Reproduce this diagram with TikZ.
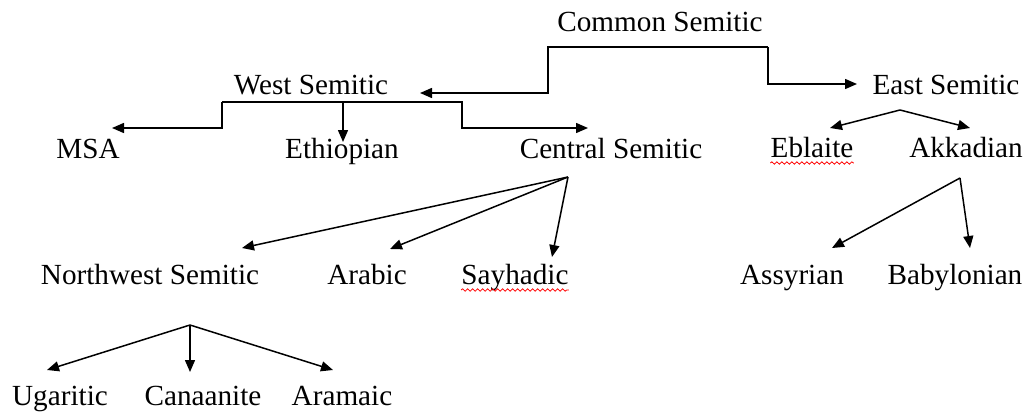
\documentclass[tikz,border=0pt]{standalone}
\usepackage{fontspec}
\setmainfont{Liberation Serif}
\usetikzlibrary{arrows.meta, decorations.pathmorphing}

\tikzset{
  lang/.style={inner sep=0pt, anchor=base, font=\fontsize{14.6}{17}\selectfont},
  branch/.style={line width=0.75pt, -{Triangle[length=6pt, width=5pt]}},
  spell/.style={red, line width=0.4pt, decorate,
    decoration={snake, amplitude=0.6pt, segment length=2.5pt}},
}

\begin{document}
\begin{tikzpicture}[x=0.5pt, y=-0.5pt]
  \useasboundingbox (0,0) rectangle (1026,417);
  % --- top: common, west, east ---
  \node[lang] (common) at (660,32) {Common Semitic};
  \node[lang] (west) at (311,95) {West Semitic};
  \node[lang] (east) at (946,95) {East Semitic};
  \coordinate (cs-left) at (548,47);
  \coordinate (cs-right) at (768,47);
  \coordinate (ws-in) at (420,93);
  \coordinate (es-in) at (857,84);
  \draw[branch] (cs-right) -- (cs-left) |- (ws-in);
  \draw[branch] (cs-right) |- (es-in);
  % --- west semitic branches ---
  \node[lang] (msa) at (88,158) {MSA};
  \node[lang] (ethiopian) at (342,158) {Ethiopian};
  \node[lang] (central) at (611,158) {Central Semitic};
  \coordinate (ws-left) at (222,102);
  \coordinate (ws-mid) at (343,102);
  \coordinate (ws-right) at (462,102);
  \coordinate (msa-in) at (112,128);
  \coordinate (eth-in) at (343,142);
  \coordinate (cen-in) at (588,128);
  \draw[branch] (ws-left) |- (msa-in);
  \draw[branch] (ws-mid) -- (eth-in);
  \draw[branch] (ws-left) -- (ws-right) |- (cen-in);
  % --- east semitic branches ---
  \node[lang] (eblaite) at (812,157) {Eblaite};
  \node[lang] (akkadian) at (966,157) {Akkadian};
  \coordinate (es-fork) at (900,110);
  \draw[branch] (es-fork) -- (830,128) coordinate (ebl-in);
  \draw[branch] (es-fork) -- (970,128) coordinate (akk-in);
  \draw[spell] ([yshift=-3pt]eblaite.base west) -- ([yshift=-3pt]eblaite.base east);
  % --- central semitic ---
  \node[lang] (northwest) at (150,284) {Northwest Semitic};
  \node[lang] (arabic) at (367,284) {Arabic};
  \node[lang] (sayhadic) at (515,284) {Sayhadic};
  \coordinate (cen-fork) at (568,177);
  \draw[branch] (cen-fork) -- (242,248) coordinate (nw-in);
  \draw[branch] (cen-fork) -- (390,249) coordinate (ara-in);
  \draw[branch] (cen-fork) -- (552,257) coordinate (say-in);
  \draw[spell] ([yshift=-3pt]sayhadic.base west) -- ([yshift=-3pt]sayhadic.base east);
  % --- akkadian ---
  \node[lang] (assyrian) at (792,284) {Assyrian};
  \node[lang] (babylonian) at (955,284) {Babylonian};
  \coordinate (akk-fork) at (960,178);
  \draw[branch] (akk-fork) -- (832,248) coordinate (ass-in);
  \draw[branch] (akk-fork) -- (970,248) coordinate (bab-in);
  % --- northwest semitic ---
  \node[lang] (ugaritic) at (60,405) {Ugaritic};
  \node[lang] (canaanite) at (203,405) {Canaanite};
  \node[lang] (aramaic) at (342,405) {Aramaic};
  \coordinate (nw-fork) at (190,325);
  \draw[branch] (nw-fork) -- (47,370) coordinate (uga-in);
  \draw[branch] (nw-fork) -- (190,372) coordinate (can-in);
  \draw[branch] (nw-fork) -- (333,370) coordinate (ara2-in);
\end{tikzpicture}
\end{document}
